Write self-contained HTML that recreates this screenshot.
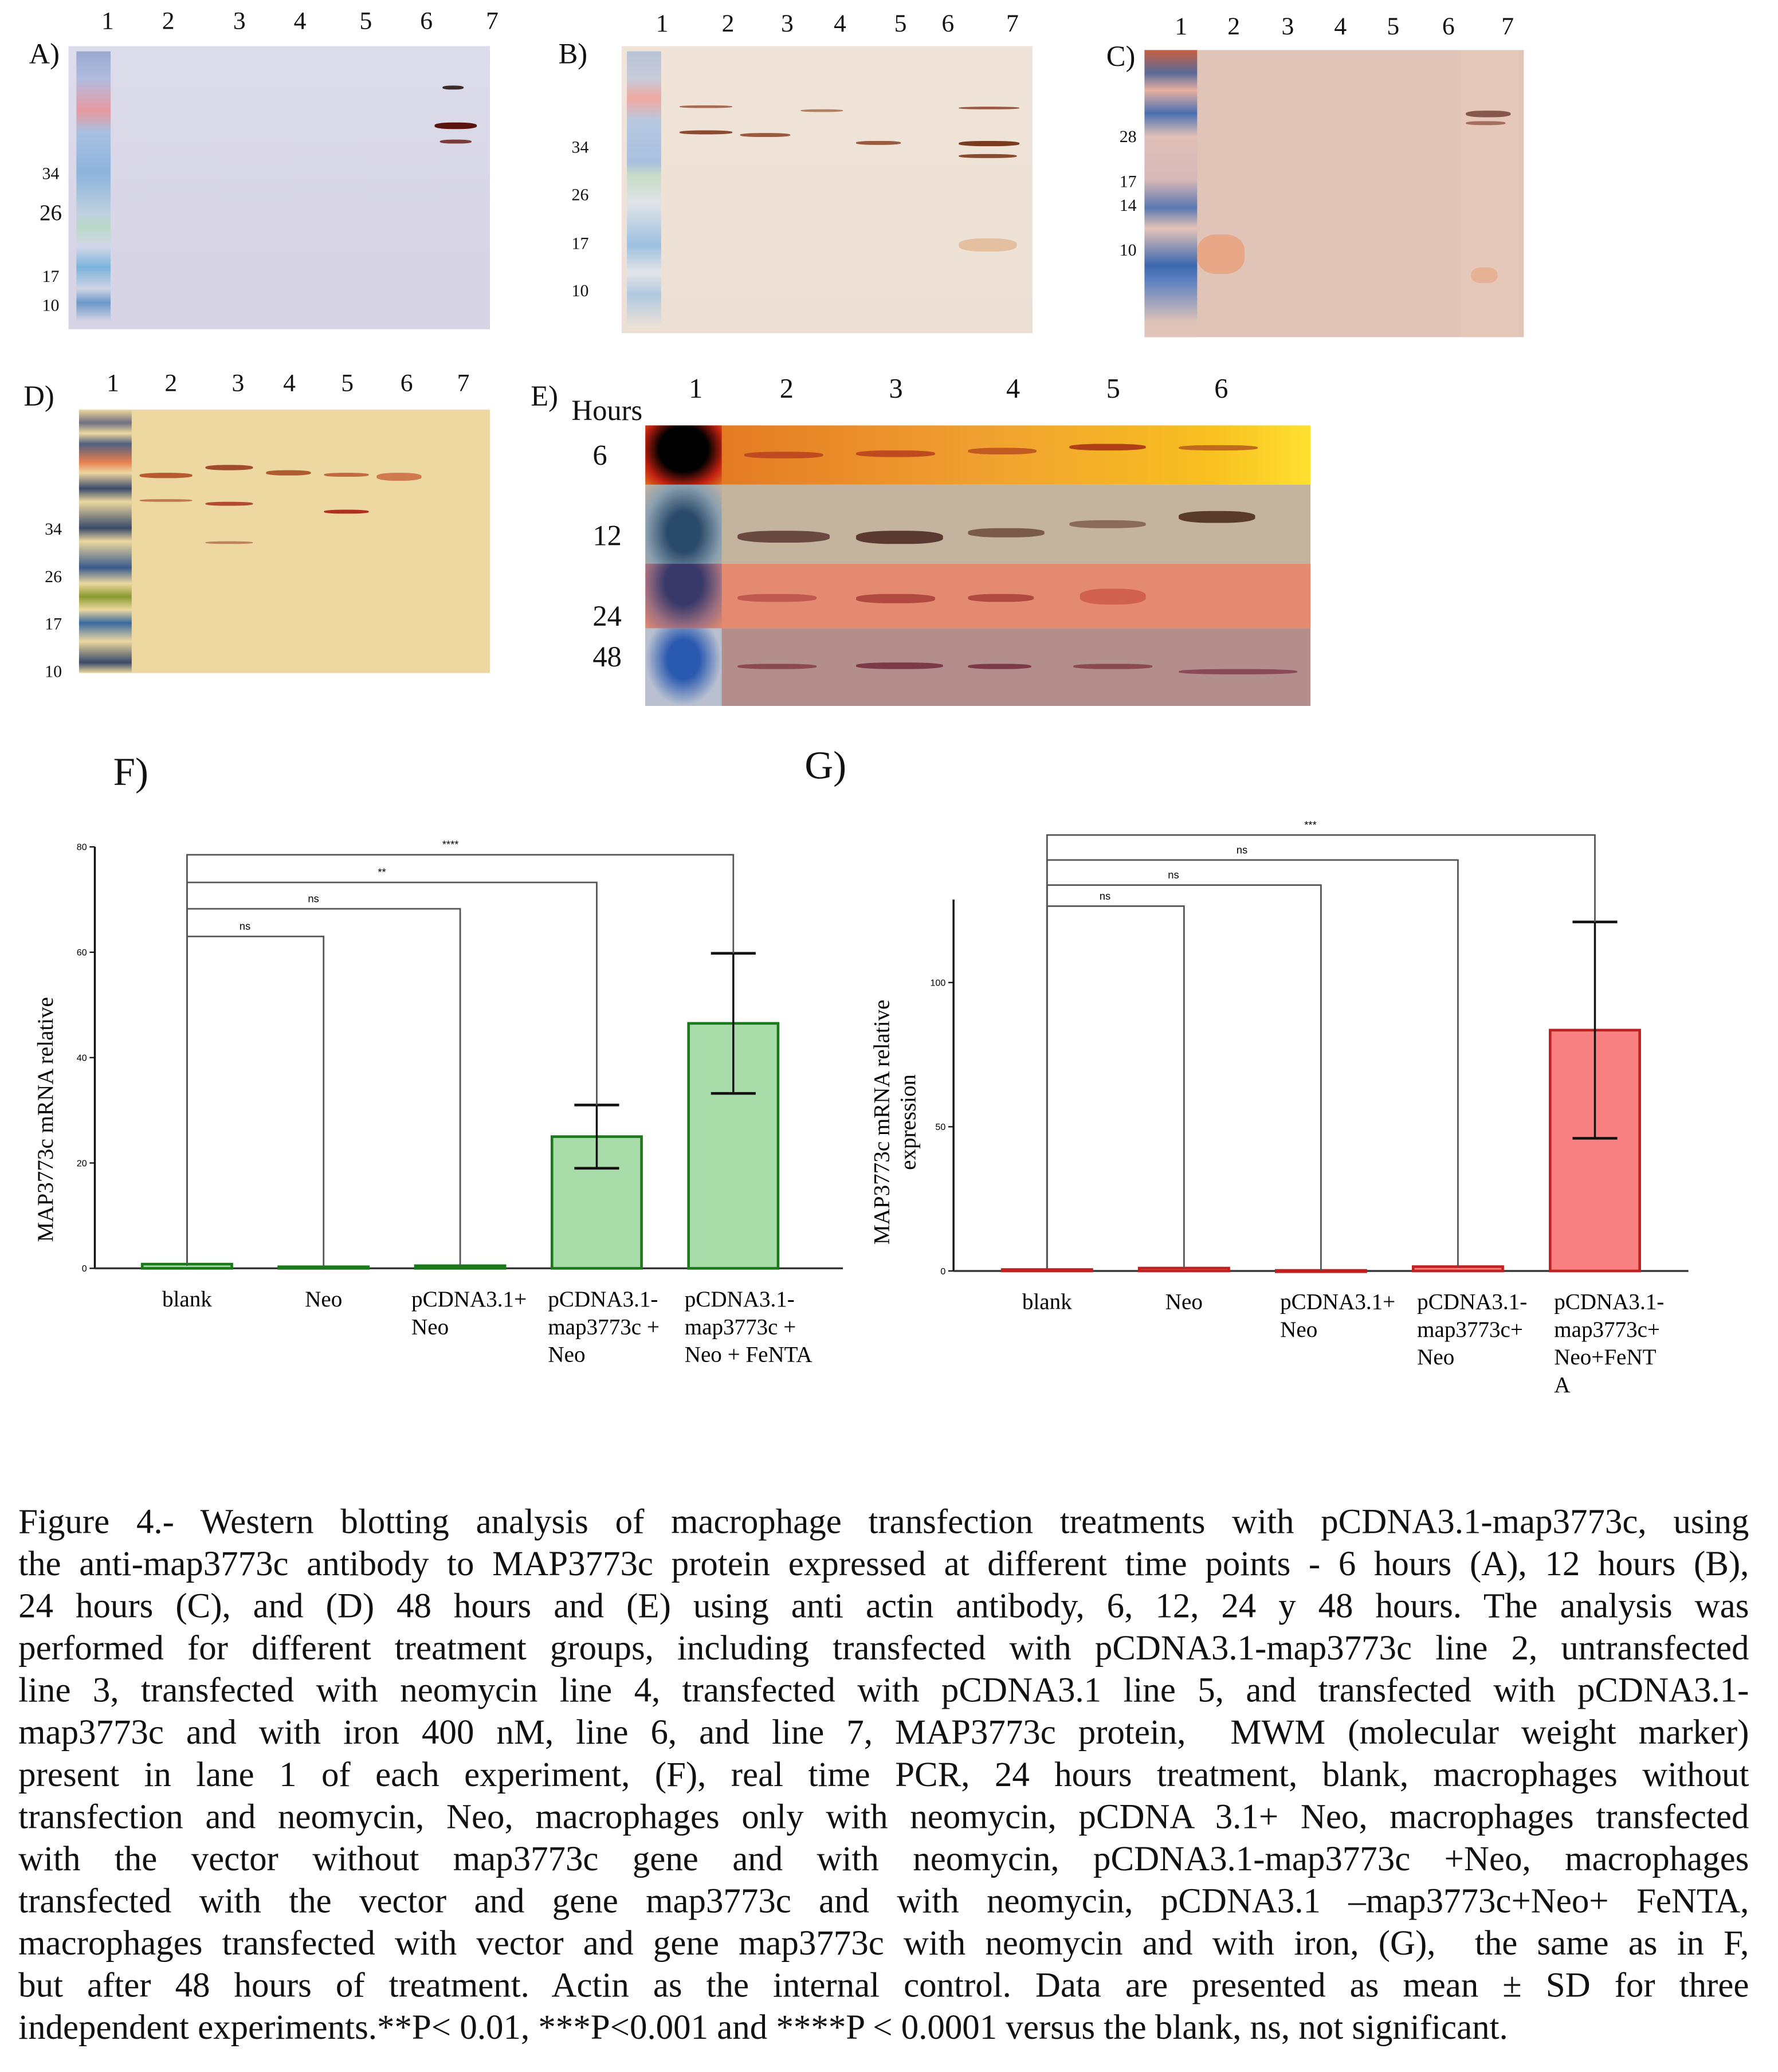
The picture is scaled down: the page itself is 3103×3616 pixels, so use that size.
<!DOCTYPE html>
<html><head><meta charset="utf-8">
<style>
html,body{margin:0;padding:0;background:#fff;}
body{width:3103px;height:3614px;overflow:hidden;position:relative;}
#stage{position:absolute;left:0;top:0;width:1350px;height:1573px;transform:scale(2.2985);transform-origin:0 0;font-family:"Liberation Serif",serif;color:#111;}
.abs{position:absolute;}
.num{position:absolute;font-size:19px;}
.mw{position:absolute;font-size:13px;}
.lbl{position:absolute;font-size:22px;}
.band{position:absolute;border-radius:40%;}
.cap{position:absolute;left:14px;width:1314px;font-size:26.5px;line-height:32px;text-align:justify;text-align-last:justify;white-space:nowrap;}
.cap.last{text-align-last:left;}
</style></head><body>
<div id="stage">

<!-- Panel A -->
<div class="lbl" style="left:22px;top:28px">A)</div>
<div class="abs" style="left:52px;top:35px;width:320px;height:215px;background:linear-gradient(180deg,#dcdcea,#d8d6e6 60%,#d6d4e4);">
  <div class="abs" style="left:6px;top:4px;width:26px;height:205px;background:linear-gradient(180deg,#9aa8d0 0%,#b0bde0 10%,#e89aa0 22%,#a8c0e0 30%,#8cb4dc 45%,#c0d0e0 60%,#b8d8c8 65%,#d4d8e8 72%,#7ab4dc 80%,#d0d4e4 88%,#6c98c8 93%,#d4d4e4 100%);"></div>
  <div class="band" style="left:278px;top:58px;width:32px;height:5px;background:#5a1410"></div>
  <div class="band" style="left:282px;top:71px;width:24px;height:3px;background:#7a3a3a"></div>
  <div class="band" style="left:284px;top:30px;width:16px;height:3px;background:#3a2a2a"></div>
</div>
<div class="num" style="left:77px;top:6px">1</div><div class="num" style="left:123px;top:6px">2</div><div class="num" style="left:177px;top:6px">3</div><div class="num" style="left:223px;top:6px">4</div><div class="num" style="left:273px;top:6px">5</div><div class="num" style="left:319px;top:6px">6</div><div class="num" style="left:369px;top:6px">7</div>
<div class="mw" style="left:32px;top:124px">34</div><div class="mw" style="left:30px;top:152px;font-size:17px">26</div><div class="mw" style="left:32px;top:202px">17</div><div class="mw" style="left:32px;top:224px">10</div>

<!-- Panel B -->
<div class="lbl" style="left:424px;top:28px">B)</div>
<div class="abs" style="left:472px;top:35px;width:312px;height:218px;background:linear-gradient(180deg,#f0e4d8,#eee2d6 60%,#ece0d4);">
  <div class="abs" style="left:4px;top:4px;width:26px;height:210px;background:linear-gradient(180deg,#b8c4d8 0%,#c8ccd8 10%,#f0a8a0 17%,#b8c8e0 25%,#a8c0e0 40%,#c8dcc8 45%,#e0e4e8 55%,#9cc0e0 70%,#e4e4e8 80%,#b0c8e0 88%,#eee2d6 100%);"></div>
  <div class="band" style="left:44px;top:45px;width:40px;height:2px;background:#a86a50"></div>
  <div class="band" style="left:44px;top:64px;width:40px;height:3px;background:#8a4a30"></div>
  <div class="band" style="left:90px;top:66px;width:38px;height:3px;background:#9a5a40"></div>
  <div class="band" style="left:136px;top:48px;width:32px;height:2px;background:#b08060"></div>
  <div class="band" style="left:178px;top:72px;width:34px;height:3px;background:#9a5a40"></div>
  <div class="band" style="left:256px;top:46px;width:46px;height:2px;background:#9a5a40"></div>
  <div class="band" style="left:256px;top:72px;width:46px;height:4px;background:#7a3a20"></div>
  <div class="band" style="left:256px;top:82px;width:44px;height:3px;background:#8a4a30"></div>
  <div class="band" style="left:256px;top:146px;width:44px;height:10px;background:#e4c0a0"></div>
</div>
<div class="num" style="left:498px;top:8px">1</div><div class="num" style="left:548px;top:8px">2</div><div class="num" style="left:593px;top:8px">3</div><div class="num" style="left:633px;top:8px">4</div><div class="num" style="left:679px;top:8px">5</div><div class="num" style="left:715px;top:8px">6</div><div class="num" style="left:764px;top:8px">7</div>
<div class="mw" style="left:434px;top:104px">34</div><div class="mw" style="left:434px;top:140px">26</div><div class="mw" style="left:434px;top:177px">17</div><div class="mw" style="left:434px;top:213px">10</div>

<!-- Panel C -->
<div class="lbl" style="left:840px;top:30px">C)</div>
<div class="abs" style="left:869px;top:38px;width:288px;height:218px;background:#e0c4b8;">
  <div class="abs" style="left:0;top:0;width:40px;height:218px;background:linear-gradient(180deg,#c86040 0%,#5a6a9a 8%,#e8b0a0 14%,#4a70b0 22%,#e0c0b8 30%,#d8b8b8 45%,#5a78b0 55%,#e4c4b8 62%,#3c68b0 75%,#5a80c0 80%,#e0c4b8 95%);"></div>
  <div class="band" style="left:40px;top:140px;width:36px;height:30px;background:#e8a888"></div>
  <div class="band" style="left:244px;top:46px;width:34px;height:5px;background:#4a1a10"></div>
  <div class="band" style="left:244px;top:54px;width:30px;height:3px;background:#7a3a28"></div>
  <div class="band" style="left:248px;top:165px;width:20px;height:12px;background:#e0a080"></div>
  <div class="abs" style="left:240px;top:0;width:44px;height:218px;background:rgba(240,210,190,0.35)"></div>
</div>
<div class="num" style="left:892px;top:10px">1</div><div class="num" style="left:932px;top:10px">2</div><div class="num" style="left:973px;top:10px">3</div><div class="num" style="left:1013px;top:10px">4</div><div class="num" style="left:1053px;top:10px">5</div><div class="num" style="left:1095px;top:10px">6</div><div class="num" style="left:1140px;top:10px">7</div>
<div class="mw" style="left:850px;top:96px">28</div><div class="mw" style="left:850px;top:130px">17</div><div class="mw" style="left:850px;top:148px">14</div><div class="mw" style="left:850px;top:182px">10</div>

<!-- Panel D -->
<div class="lbl" style="left:18px;top:288px">D)</div>
<div class="abs" style="left:60px;top:311px;width:312px;height:200px;background:#ecd8a0;">
  <div class="abs" style="left:0;top:0;width:40px;height:200px;background:linear-gradient(180deg,#ecd8a0 0%,#707080 5%,#ecd8a0 9%,#506080 13%,#e88050 20%,#ecd8a0 24%,#3a4a6a 30%,#ecd8a0 35%,#3a4a6a 45%,#ecd8a0 50%,#3a5a8a 60%,#ecd8a0 66%,#8a9a30 71%,#ecd8a0 76%,#3a6aa0 81%,#ecd8a0 88%,#3a4a6a 96%,#ecd8a0 100%);"></div>
  <div class="band" style="left:46px;top:48px;width:40px;height:4px;background:#b85a30"></div>
  <div class="band" style="left:46px;top:68px;width:40px;height:2px;background:#c07850"></div>
  <div class="band" style="left:96px;top:42px;width:36px;height:4px;background:#a04a30"></div>
  <div class="band" style="left:96px;top:70px;width:36px;height:3px;background:#b04a30"></div>
  <div class="band" style="left:96px;top:100px;width:36px;height:2px;background:#c08060"></div>
  <div class="band" style="left:142px;top:46px;width:34px;height:4px;background:#b05a30"></div>
  <div class="band" style="left:186px;top:48px;width:34px;height:3px;background:#c06a40"></div>
  <div class="band" style="left:186px;top:76px;width:34px;height:3px;background:#b03020"></div>
  <div class="band" style="left:226px;top:48px;width:34px;height:6px;background:#d07a50"></div>
</div>
<div class="num" style="left:81px;top:281px">1</div><div class="num" style="left:125px;top:281px">2</div><div class="num" style="left:176px;top:281px">3</div><div class="num" style="left:215px;top:281px">4</div><div class="num" style="left:259px;top:281px">5</div><div class="num" style="left:304px;top:281px">6</div><div class="num" style="left:347px;top:281px">7</div>
<div class="mw" style="left:34px;top:394px">34</div><div class="mw" style="left:34px;top:430px">26</div><div class="mw" style="left:34px;top:466px">17</div><div class="mw" style="left:34px;top:502px">10</div>

<!-- Panel E -->
<div class="lbl" style="left:403px;top:288px">E)</div>
<div class="lbl" style="left:434px;top:299px">Hours</div>
<div class="num" style="left:523px;top:283px;font-size:21px">1</div><div class="num" style="left:592px;top:283px;font-size:21px">2</div><div class="num" style="left:675px;top:283px;font-size:21px">3</div><div class="num" style="left:764px;top:283px;font-size:21px">4</div><div class="num" style="left:840px;top:283px;font-size:21px">5</div><div class="num" style="left:922px;top:283px;font-size:21px">6</div>
<div class="abs" style="left:490px;top:323px;width:505px;height:213px;">
  <div class="abs" style="left:0;top:0;width:505px;height:45px;background:linear-gradient(90deg,#e07020,#f0a030 50%,#f8c020 85%,#ffe030);"></div>
  <div class="abs" style="left:0;top:45px;width:505px;height:60px;background:#c4b49e;"></div>
  <div class="abs" style="left:0;top:105px;width:505px;height:49px;background:#e48a70;"></div>
  <div class="abs" style="left:0;top:154px;width:505px;height:59px;background:#b48e8c;"></div>
  <div class="abs" style="left:0;top:0;width:58px;height:45px;background:radial-gradient(ellipse at 50% 40%,#000 45%,#c02010 75%,#e07020);"></div>
  <div class="abs" style="left:0;top:45px;width:58px;height:60px;background:radial-gradient(ellipse at 50% 60%,#2a4a6a 30%,#8aa0b0 70%,#c4b49e);"></div>
  <div class="abs" style="left:0;top:105px;width:58px;height:49px;background:radial-gradient(ellipse at 50% 30%,#3a3a6a 35%,#a07080 70%,#e48a70);"></div>
  <div class="abs" style="left:0;top:154px;width:58px;height:59px;background:radial-gradient(ellipse at 50% 40%,#2a5ab0 30%,#b8c0d0 70%);"></div>
  <div class="band" style="left:75px;top:20px;width:60px;height:5px;background:#c04a20"></div>
  <div class="band" style="left:160px;top:19px;width:60px;height:5px;background:#c04a20"></div>
  <div class="band" style="left:245px;top:17px;width:52px;height:5px;background:#c05a20"></div>
  <div class="band" style="left:322px;top:14px;width:58px;height:5px;background:#b04018"></div>
  <div class="band" style="left:405px;top:15px;width:60px;height:4px;background:#c06a20"></div>
  <div class="band" style="left:70px;top:80px;width:70px;height:9px;background:#6a4a40"></div>
  <div class="band" style="left:160px;top:80px;width:66px;height:10px;background:#5a3a30"></div>
  <div class="band" style="left:245px;top:78px;width:58px;height:7px;background:#7a5a4a"></div>
  <div class="band" style="left:322px;top:72px;width:58px;height:6px;background:#8a6a5a"></div>
  <div class="band" style="left:405px;top:65px;width:58px;height:9px;background:#5a3a2a"></div>
  <div class="band" style="left:70px;top:128px;width:60px;height:6px;background:#c05a50"></div>
  <div class="band" style="left:160px;top:128px;width:60px;height:7px;background:#b04a40"></div>
  <div class="band" style="left:245px;top:128px;width:50px;height:6px;background:#b04a40"></div>
  <div class="band" style="left:330px;top:124px;width:50px;height:12px;background:#d06050"></div>
  <div class="band" style="left:70px;top:181px;width:60px;height:4px;background:#8a4a50"></div>
  <div class="band" style="left:160px;top:180px;width:66px;height:5px;background:#7a3a48"></div>
  <div class="band" style="left:245px;top:181px;width:48px;height:4px;background:#7a3a48"></div>
  <div class="band" style="left:325px;top:181px;width:60px;height:4px;background:#8a4a50"></div>
  <div class="band" style="left:405px;top:185px;width:90px;height:4px;background:#8a4a58"></div>
</div>
<div class="lbl" style="left:450px;top:333px">6</div>
<div class="lbl" style="left:450px;top:394px">12</div>
<div class="lbl" style="left:450px;top:455px">24</div>
<div class="lbl" style="left:450px;top:486px">48</div>

<!-- Charts -->
<div class="abs" style="left:86px;top:570px;font-size:30px">F)</div>
<div class="abs" style="left:611px;top:565px;font-size:30px">G)</div>
<svg id="charts" class="abs" style="left:0;top:0" width="1350" height="1120"></svg>

<!-- Caption -->
<div>
<div class="cap" style="top:1139px">Figure 4.- Western blotting analysis of macrophage transfection treatments with pCDNA3.1-map3773c, using</div>
<div class="cap" style="top:1171px">the anti-map3773c antibody to MAP3773c protein expressed at different time points - 6 hours (A), 12 hours (B),</div>
<div class="cap" style="top:1203px">24 hours (C), and (D) 48 hours and (E) using anti actin antibody, 6, 12, 24 y 48 hours. The analysis was</div>
<div class="cap" style="top:1235px">performed for different treatment groups, including transfected with pCDNA3.1-map3773c line 2, untransfected</div>
<div class="cap" style="top:1267px">line 3, transfected with neomycin line 4, transfected with pCDNA3.1 line 5, and transfected with pCDNA3.1-</div>
<div class="cap" style="top:1299px">map3773c and with iron 400 nM, line 6, and line 7, MAP3773c protein,&nbsp; MWM (molecular weight marker)</div>
<div class="cap" style="top:1331px">present in lane 1 of each experiment, (F), real time PCR, 24 hours treatment, blank, macrophages without</div>
<div class="cap" style="top:1363px">transfection and neomycin, Neo, macrophages only with neomycin, pCDNA 3.1+ Neo, macrophages transfected</div>
<div class="cap" style="top:1395px">with the vector without map3773c gene and with neomycin, pCDNA3.1-map3773c +Neo, macrophages</div>
<div class="cap" style="top:1427px">transfected with the vector and gene map3773c and with neomycin, pCDNA3.1 –map3773c+Neo+ FeNTA,</div>
<div class="cap" style="top:1459px">macrophages transfected with vector and gene map3773c with neomycin and with iron, (G),&nbsp; the same as in F,</div>
<div class="cap" style="top:1491px">but after 48 hours of treatment. Actin as the internal control. Data are presented as mean ± SD for three</div>
<div class="cap last" style="top:1523px">independent experiments.**P&lt; 0.01, ***P&lt;0.001 and ****P &lt; 0.0001 versus the blank, ns, not significant.</div>
</div>
</div>

<script>
const catsF = [["blank"],["Neo"],["pCDNA3.1+","Neo"],["pCDNA3.1-","map3773c +","Neo"],["pCDNA3.1-","map3773c +","Neo + FeNTA"]];
const valsF = [0.8, 0.3, 0.5, 25, 46.5];
const errF = [0, 0, 0, 6, 13.3];
const ticksF = [0, 20, 40, 60, 80];
const sigF = ["ns","ns","**","****"];
const catsG = [["blank"],["Neo"],["pCDNA3.1+","Neo"],["pCDNA3.1-","map3773c+","Neo"],["pCDNA3.1-","map3773c+","Neo+FeNT","A"]];
const valsG = [0.5, 1, 0.2, 1.5, 83.5];
const errG = [0, 0, 0, 0, 37.5];
const ticksG = [0, 50, 100];
const sigG = ["ns","ns","ns","***"];

const NS = "http://www.w3.org/2000/svg";
const svg = document.getElementById('charts');
function mk(tag, attrs, parent){const e=document.createElementNS(NS,tag);for(const k in attrs)e.setAttribute(k,attrs[k]);(parent||svg).appendChild(e);return e;}

function chart(o){
  const y = v => o.y0 - (v - 0) * (o.y0 - o.yTop) / (o.vTop);
  const x = i => o.x0 + i * o.step;
  const g = mk('g',{});
  
  
  const ax = mk('line',{x1:o.axX,y1:o.axTop,x2:o.axX,y2:o.y0,stroke:'#111','stroke-width':1.5},g);
  
  
  const xa = mk('line',{x1:o.axX,y1:o.y0,x2:o.axRight,y2:o.y0,stroke:'#333','stroke-width':1.5},g);
  
  
  o.ticks.forEach(t=>{
    mk('line',{x1:o.axX-4,y1:y(t),x2:o.axX,y2:y(t),stroke:'#111','stroke-width':1},g);
    const tl = mk('text',{x:o.axX-6,y:y(t)+2.5,'font-size':7,'text-anchor':'end','font-family':'Liberation Sans, sans-serif'},g);
    tl.textContent = t;
    
    
  });
  o.vals.forEach((v,i)=>{
    const cx = x(i);
    const r = mk('rect',{x:cx-o.bw/2,y:y(v),width:o.bw,height:Math.max(1,o.y0-y(v)),fill:o.fill,stroke:o.stroke,'stroke-width':2},g);
    
    
    if(o.err[i]>0){
      const hi=y(v+o.err[i]), lo=y(v-o.err[i]);
      mk('line',{x1:cx,y1:hi,x2:cx,y2:lo,stroke:'#111','stroke-width':1.5},g);
      mk('line',{x1:cx-17,y1:hi,x2:cx+17,y2:hi,stroke:'#111','stroke-width':2},g);
      mk('line',{x1:cx-17,y1:lo,x2:cx+17,y2:lo,stroke:'#111','stroke-width':2},g);
    }
    o.cats[i].forEach((ln,j)=>{
      const t = mk('text',{x:cx+(o.cats[i].length>1?-o.bw/2+(o.labOff||0):0),y:o.labY+j*21,'font-size':17,'text-anchor':o.cats[i].length>1?'start':'middle','font-family':'Liberation Serif, serif'},g);
      t.textContent = ln;
      
      
    });
  });
  o.sig.forEach((s,k)=>{
    const by = o.brY[k], x1 = x(0), x2 = x(k+1);
    mk('polyline',{points:`${x1},${o.y0-2} ${x1},${by} ${x2},${by} ${x2},${y(o.vals[k+1]+o.err[k+1])}`,fill:'none',stroke:'#555','stroke-width':1.2},g);
    const t = mk('text',{x:x1 + (k+1)*52 - 8,y:by-5,'font-size':8,'text-anchor':'middle','font-family':'Liberation Sans, sans-serif'},g);
    t.textContent = s;
    
    
  });
  o.ylab.forEach((ln,j)=>{
    const t = mk('text',{x:0,y:0,'font-size':17,'text-anchor':'middle','font-family':'Liberation Serif, serif',transform:`translate(${o.ylabX+j*20},${o.ylabY}) rotate(-90)`},g);
    t.textContent = ln;
    
    
  });
}
chart({name:'chart-f',axX:72,axTop:643,axRight:640,y0:963,yTop:643,vTop:80,x0:142,step:103.7,bw:68,vals:valsF,err:errF,ticks:ticksF,cats:catsF,sig:sigF,brY:[711,690,670,649],fill:'#a8dca8',stroke:'#1a7a1a',labY:992,labOff:-3,ylab:['MAP3773c mRNA relative'],ylabX:40,ylabY:850});
chart({name:'chart-g',axX:724,axTop:683,axRight:1282,y0:965,yTop:746,vTop:100,x0:795,step:104,bw:68,vals:valsG,err:errG,ticks:ticksG,cats:catsG,sig:sigG,brY:[688,672,653,634],fill:'#f88080',stroke:'#c02020',labY:994,labOff:3,ylab:['MAP3773c mRNA relative','expression'],ylabX:675,ylabY:852});
</script>
</body></html>
